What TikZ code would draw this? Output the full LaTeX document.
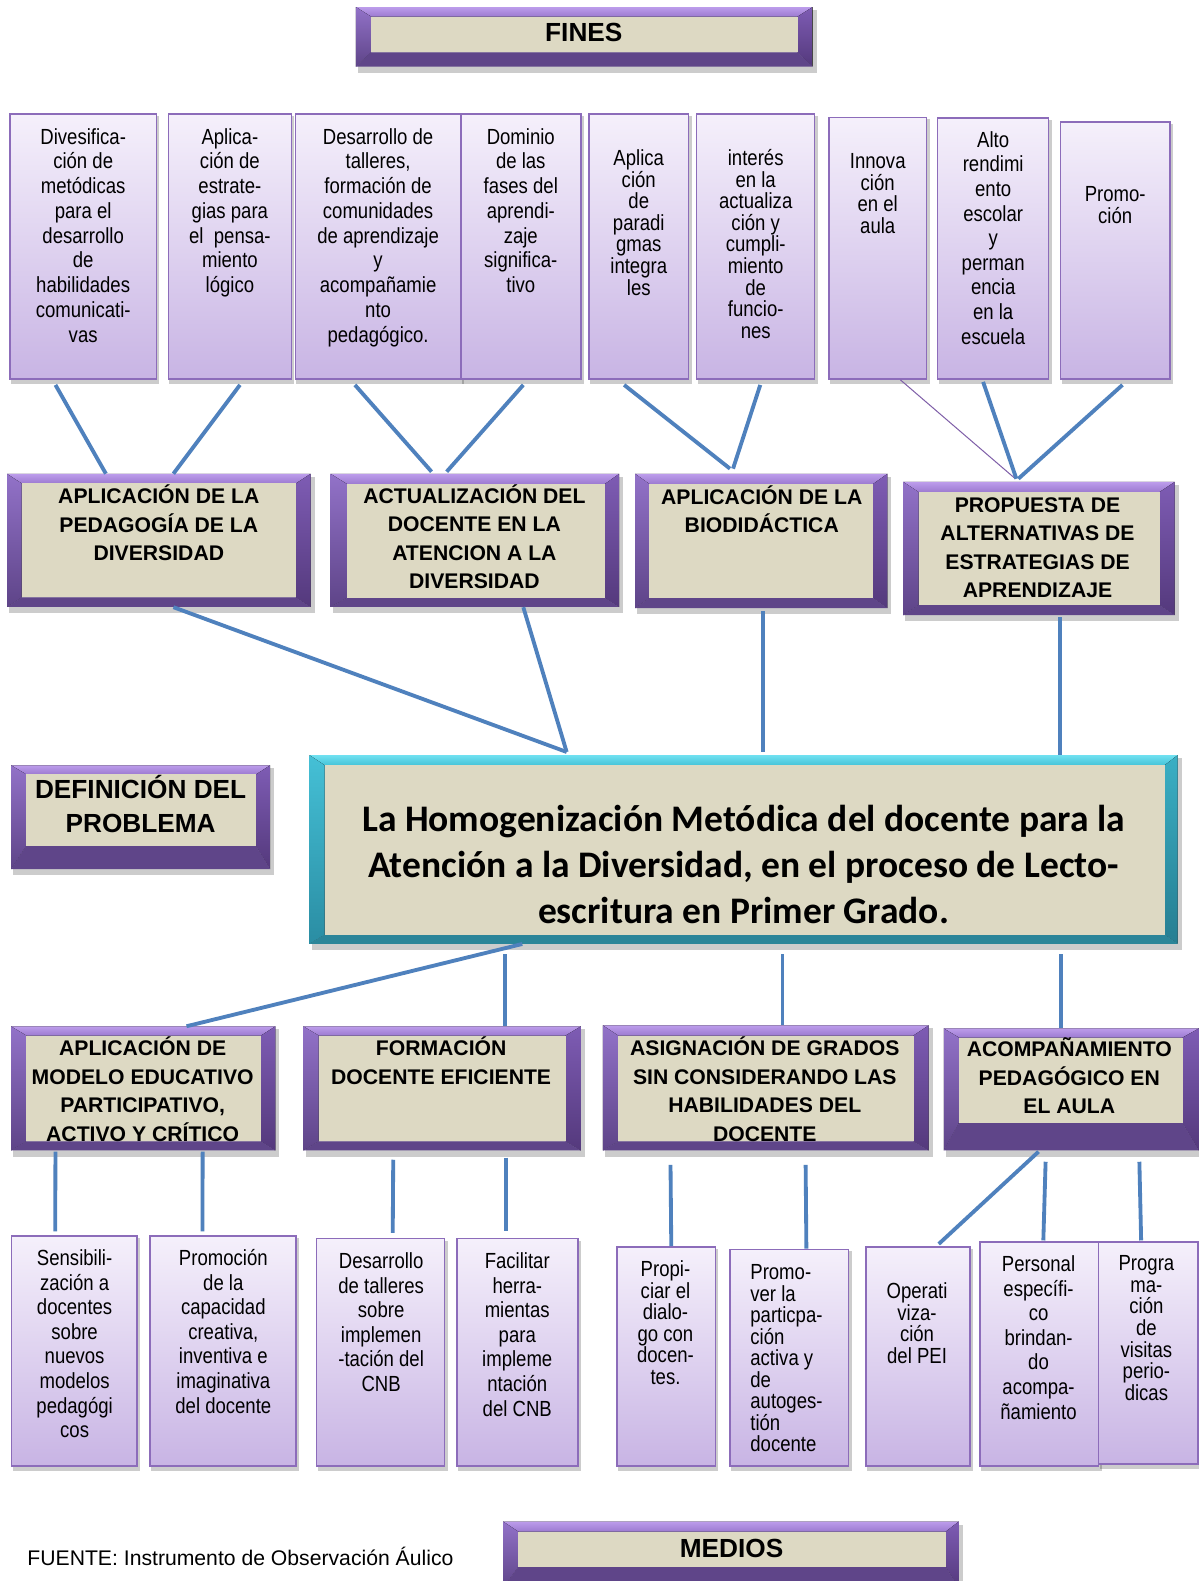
\documentclass[tikz,border=0pt]{standalone}
\usepackage{fontspec}
\setmainfont{Liberation Sans}
\newfontfamily\calfont{Carlito}
\usepackage{graphicx}
\usetikzlibrary{fit}
\definecolor{connblue}{HTML}{4F81BD}
\definecolor{thinpurple}{HTML}{7F5FA8}
\definecolor{lavtop}{HTML}{F5F0FB}
\definecolor{lavbot}{HTML}{C8B4E4}
\definecolor{lavborder}{HTML}{8C6CBA}
\definecolor{beige}{HTML}{DDD9C3}
\definecolor{ptopA}{HTML}{BC9CEB}
\definecolor{ptopB}{HTML}{9C7AD0}
\definecolor{pleftA}{HTML}{9272C8}
\definecolor{pleftB}{HTML}{5E4488}
\definecolor{prightA}{HTML}{7E5CB4}
\definecolor{prightB}{HTML}{54397C}
\definecolor{pbot}{HTML}{5F4589}
\definecolor{ttopA}{HTML}{6FE0F0}
\definecolor{ttopB}{HTML}{45C3D8}
\definecolor{tleftA}{HTML}{45C0D6}
\definecolor{tleftB}{HTML}{2A8DA3}
\definecolor{trightA}{HTML}{3AAFC4}
\definecolor{trightB}{HTML}{267E92}
\definecolor{tbot}{HTML}{2B8599}

\tikzset{
  conn/.style={draw=connblue, line width=3.8},
  thinconn/.style={draw=thinpurple, line width=1},
  lav/.style={draw=lavborder, line width=1.5, top color=lavtop, bottom color=lavbot, inner sep=0},
  shadowc/.style={fill=black, opacity=0.2},
  purp top/.style={top color=ptopA, bottom color=ptopB},
  purp left/.style={top color=pleftA, bottom color=pleftB},
  purp right/.style={top color=prightA, bottom color=prightB},
  purp bottom/.style={fill=pbot},
  teal top/.style={top color=ttopA, bottom color=ttopB},
  teal left/.style={top color=tleftA, bottom color=tleftB},
  teal right/.style={top color=trightA, bottom color=trightB},
  teal bottom/.style={fill=tbot},
  btext/.style={inner sep=0, anchor=base, font=\bfseries\fontsize{21}{28.3}\selectfont},
  stext/.style={inner sep=0, anchor=base},
}

% bevelled box: [scheme]{name}{outer corner 1}{outer corner 2}{inner corner 1}{inner corner 2}
\newcommand{\bevbox}[6][purp]{%
  \coordinate (#2-o1) at (#3); \coordinate (#2-o3) at (#4);
  \coordinate (#2-i1) at (#5); \coordinate (#2-i3) at (#6);
  \fill[shadowc] ([shift={(2,3)}]#2-o1) rectangle ([shift={(4,6)}]#2-o3);
  \fill[#1 top] (#2-o1) -- (#2-o1 -| #2-o3) -- (#2-i1 -| #2-i3) -- (#2-i1) -- cycle;
  \fill[#1 left] (#2-o1) -- (#2-i1) -- (#2-i1 |- #2-i3) -- (#2-o1 |- #2-o3) -- cycle;
  \fill[#1 right] (#2-o1 -| #2-o3) -- (#2-o3) -- (#2-i3) -- (#2-i1 -| #2-i3) -- cycle;
  \fill[#1 bottom] (#2-o1 |- #2-o3) -- (#2-o3) -- (#2-i3) -- (#2-i1 |- #2-i3) -- cycle;
  \fill[beige] (#2-i1) rectangle (#2-i3);
  \node[fit=(#2-o1)(#2-o3), inner sep=0] (#2) {};
}
% lavender box: {name}{corner 1}{corner 2}
\newcommand{\lavbox}[3]{%
  \coordinate (#1-a) at (#2); \coordinate (#1-b) at (#3);
  \fill[shadowc] ([shift={(1,2)}]#1-a) rectangle ([shift={(3,5)}]#1-b);
  \node[lav, fit=(#1-a)(#1-b)] (#1) {};
}
% small stretched text, centred / left
\newcommand{\stx}[2]{\scalebox{1}[1.18]{\parbox[t]{220pt}{\centering\fontsize{18.4}{#1}\selectfont #2}}}
\newcommand{\stxl}[2]{\scalebox{1}[1.18]{\parbox[t]{150pt}{\raggedright\fontsize{18.4}{#1}\selectfont #2}}}
\newcommand{\btx}[1]{\parbox[t]{400pt}{\centering #1}}

\begin{document}
\begin{tikzpicture}[x=1pt,y=-1pt]
\fill[white] (0,0) rectangle (1189,1568);
\useasboundingbox (0,0) rectangle (1189,1568);

% ---------- FINES ----------
\bevbox{fines}{353,7}{806,66}{368,16.5}{791,52}
\node[inner sep=0, anchor=base, font=\bfseries\fontsize{26}{30}\selectfont] (finestxt) at (579,41) {FINES};

% ---------- top row ----------
\lavbox{t1}{10,113}{155,376}
\lavbox{t2}{167,113}{289,376}
\lavbox{t3}{293,113}{457,376}
\lavbox{t4}{457,113}{576,376}
\lavbox{t5}{584,113}{683,376}
\lavbox{t6}{691,113}{808,376}
\lavbox{t7}{822,116.5}{919,376}
\lavbox{t8}{930,117}{1040,376}
\lavbox{t9}{1052,121}{1160.5,376}

\node[stext] (t1txt) at (82.5,143) {\stx{20.8}{Divesifica-\\ción de\\metódicas\\para el\\desarrollo\\de\\habilidades\\comunicati-\\vas}};
\node[stext] (t2txt) at (228,143) {\stx{20.8}{Aplica-\\ción de\\estrate-\\gias para\\el~~pensa-\\miento\\lógico}};
\node[stext] (t3txt) at (375,143) {\stx{20.8}{Desarrollo de\\talleres,\\formación de\\comunidades\\de aprendizaje\\y\\acompañamie\\nto\\pedagógico.}};
\node[stext] (t4txt) at (516.5,143) {\stx{20.8}{Dominio\\de las\\fases del\\aprendi-\\zaje\\significa-\\tivo}};
\node[stext] (t5txt) at (633.5,164) {\stx{18.2}{Aplica\\ción\\de\\paradi\\gmas\\integra\\les}};
\node[stext] (t6txt) at (749.5,164) {\stx{18.2}{interés\\en la\\actualiza\\ción y\\cumpli-\\miento\\de\\funcio-\\nes}};
\node[stext] (t7txt) at (870.5,167) {\stx{18.2}{Innova\\ción\\en el\\aula}};
\node[stext] (t8txt) at (985,146) {\stx{20.7}{Alto\\rendimi\\ento\\escolar\\y\\perman\\encia\\en la\\escuela}};
\node[stext] (t9txt) at (1106,200) {\stx{18}{Promo-\\ción}};

% ---------- middle row ----------
\bevbox{A}{7,470}{308,602}{21.5,479.5}{293.5,592.5}
\bevbox{B}{328,470}{614,602}{344,480}{600,593}
\bevbox{C}{630,470}{880,603}{644,480}{866,593}
\bevbox{D}{896,478}{1165,610}{911,488}{1150,600}
\node[btext] (Atxt) at (157.5,499.5) {\btx{APLICACIÓN DE LA\\PEDAGOGÍA DE LA\\DIVERSIDAD}};
\node[btext] (Btxt) at (470.5,499) {\btx{ACTUALIZACIÓN DEL\\DOCENTE EN LA\\ATENCION A LA\\DIVERSIDAD}};
\node[btext] (Ctxt) at (755.5,500) {\btx{APLICACIÓN DE LA\\BIODIDÁCTICA}};
\node[btext] (Dtxt) at (1029,508) {\btx{PROPUESTA DE\\ALTERNATIVAS DE\\ESTRATEGIAS DE\\APRENDIZAJE}};

% ---------- problem ----------
\bevbox{DEF}{11,759}{268,862}{26,768}{254,839}
\node[inner sep=0, anchor=base, font=\bfseries\fontsize{26}{34}\selectfont] (DEFtxt) at (139.5,792) {\btx{DEFINICIÓN DEL\\PROBLEMA}};
\bevbox[teal]{P}{307,749}{1168,936}{322,759}{1155,927}
\node[inner sep=0, anchor=base] (Ptxt) at (737.5,825) {\parbox[t]{900pt}{\centering\calfont\bfseries\fontsize{37.2}{45.3}\selectfont La Homogenización Metódica del docente para la\\Atención a la Diversidad, en el proceso de Lecto-\\escritura en Primer Grado.}};

% ---------- lower middle row ----------
\bevbox{E}{11,1018}{273,1141}{26,1027}{259,1132}
\bevbox{F}{301,1018}{576,1141}{316,1027}{561,1132}
\bevbox{G}{598,1017}{921,1141}{613,1027}{906,1132}
\bevbox{H}{936,1020}{1189,1141}{951,1029}{1173,1114}
\node[btext] (Etxt) at (141.5,1047) {\btx{APLICACIÓN DE\\MODELO EDUCATIVO\\PARTICIPATIVO,\\ACTIVO Y CRÍTICO}};
\node[btext] (Ftxt) at (437.5,1047) {\btx{FORMACIÓN\\DOCENTE EFICIENTE}};
\node[btext] (Gtxt) at (758.5,1047) {\btx{ASIGNACIÓN DE GRADOS\\SIN CONSIDERANDO LAS\\HABILIDADES DEL\\DOCENTE}};
\node[btext] (Htxt) at (1060.5,1048) {\btx{ACOMPAÑAMIENTO\\PEDAGÓGICO EN\\EL AULA}};

% ---------- bottom row ----------
\lavbox{b1}{11.5,1226}{136,1454}
\lavbox{b2}{149,1226}{293.5,1454}
\lavbox{b3}{314,1228.5}{441,1454}
\lavbox{b4}{453,1228.5}{573,1454}
\lavbox{b5}{612,1236.5}{709.5,1454}
\lavbox{b6}{724,1239}{841.5,1454}
\lavbox{b7}{859,1236.5}{962,1454}
\lavbox{b8}{972,1232}{1089.5,1454}
\lavbox{b9}{1089.5,1232}{1188,1452}

\node[stext] (b1txt) at (74,1255) {\stx{20.7}{Sensibili-\\zación a\\docentes\\sobre\\nuevos\\modelos\\pedagógi\\cos}};
\node[stext] (b2txt) at (221.5,1255) {\stx{20.7}{Promoción\\de la\\capacidad\\creativa,\\inventiva e\\imaginativa\\del docente}};
\node[stext] (b3txt) at (378,1258) {\stx{20.7}{Desarrollo\\de talleres\\sobre\\implemen\\-tación del\\CNB}};
\node[stext] (b4txt) at (513,1258) {\stx{20.7}{Facilitar\\herra-\\mientas\\para\\impleme\\ntación\\del CNB}};
\node[stext] (b5txt) at (660,1266) {\stx{18.1}{Propi-\\ciar el\\dialo-\\go con\\docen-\\tes.}};
\node[stext, anchor=base west] (b6txt) at (744,1269) {\stxl{18.1}{Promo-\\ver la\\particpa-\\ción\\activa y\\de\\autoges-\\tión\\docente}};
\node[stext] (b7txt) at (909.5,1288) {\stx{18.1}{Operati\\viza-\\ción\\del PEI}};
\node[stext] (b8txt) at (1030,1261) {\stx{20.7}{Personal\\específi-\\co\\brindan-\\do\\acompa-\\ñamiento}};
\node[stext] (b9txt) at (1137,1260) {\stx{18.2}{Progra\\ma-\\ción\\de\\visitas\\perio-\\dicas}};

% ---------- footer ----------
\bevbox{M}{499,1509}{951,1575}{514,1519}{938,1554}
\node[inner sep=0, anchor=base, font=\bfseries\fontsize{26}{30}\selectfont] (Mtxt) at (725.5,1544.5) {MEDIOS};
\node[inner sep=0, anchor=base west, font=\fontsize{21}{25}\selectfont] (fuente) at (27,1552.5) {FUENTE: Instrumento de Observación Áulico};

% ---------- connectors: top row -> middle row ----------
\draw[conn] ([xshift=-27.5,yshift=-5]t1.south) -- ([xshift=-52.5]A.north);
\draw[conn] ([xshift=10,yshift=-5]t2.south) -- ([xshift=14.5]A.north);
\draw[conn] ([xshift=-23,yshift=-5]t3.south) -- ([xshift=-43,yshift=2]B.north);
\draw[conn] ([xshift=2.5,yshift=-5]t4.south) -- ([xshift=-28,yshift=2]B.north);
\draw[conn] ([xshift=-14.5,yshift=-5]t5.south) -- ([xshift=-31,yshift=5]C.north);
\draw[conn] ([xshift=4.5,yshift=-5]t6.south) -- ([xshift=-28,yshift=5]C.north);
\draw[thinconn] ([xshift=22.5]t7.south) -- ([xshift=-23.5,yshift=3]D.north);
\draw[conn] ([xshift=-10,yshift=-2]t8.south) -- ([xshift=-22.5,yshift=3]D.north);
\draw[conn] ([xshift=7,yshift=-5]t9.south) -- ([xshift=-20.5,yshift=3]D.north);

% ---------- middle row -> problem ----------
\draw[conn] ([xshift=14.5]A.south) -- ([xshift=-175.5,yshift=3]P.north);
\draw[conn] ([xshift=48]B.south) -- ([xshift=-175.5,yshift=3]P.north);
\draw[conn] ([xshift=2,yshift=-3]C.south) -- ([xshift=19.5,yshift=3]P.north);
\draw[conn] ([xshift=20.5,yshift=-2]D.south) -- ([xshift=313.5]P.north);

% ---------- problem -> lower row ----------
\draw[conn] ([xshift=-219.5]P.south) -- ([xshift=43]E.north);
\draw[conn] ([xshift=-236.5,yshift=-10]P.south) -- ([xshift=62.5]F.north);
\draw[conn] ([xshift=38.5,yshift=-10]P.south) -- ([xshift=16.5]G.north);
\draw[conn] ([xshift=314.5,yshift=-10]P.south) -- ([xshift=-10.5]H.north);

% ---------- lower row -> bottom row ----------
\draw[conn] ([xshift=-87,yshift=-1]E.south) -- ([xshift=-19,yshift=4]b1.north);
\draw[conn] ([xshift=59,yshift=-1]E.south) -- ([xshift=-20.5,yshift=4]b2.north);
\draw[conn] ([xshift=-48.5,yshift=-9]F.south) -- ([xshift=12,yshift=5]b3.north);
\draw[conn] ([xshift=63.5,yshift=-7]F.south) -- ([xshift=-11,yshift=7]b4.north);
\draw[conn] ([xshift=-94.5,yshift=-14]G.south) -- ([xshift=5]b5.north);
\draw[conn] ([xshift=39.5,yshift=-14]G.south) -- ([xshift=17]b6.north);
\draw[conn] ([xshift=-32.5,yshift=-1]H.south) -- ([xshift=20.5,yshift=2]b7.north);
\draw[conn] ([xshift=-25.5,yshift=-11]H.south) -- ([xshift=4,yshift=1]b8.north);
\draw[conn] ([xshift=67.5,yshift=-11]H.south) -- ([xshift=-7,yshift=1]b9.north);
\end{tikzpicture}
\end{document}
